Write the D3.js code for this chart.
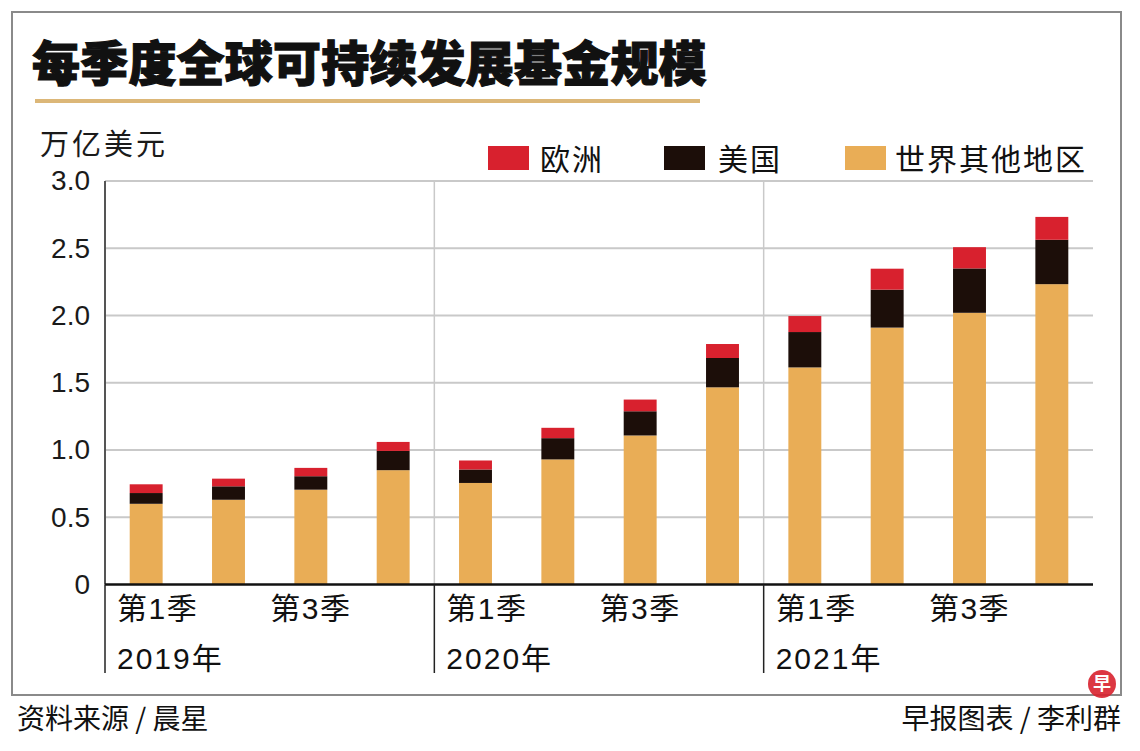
<!DOCTYPE html>
<html>
<head>
<meta charset="utf-8">
<script src="https://cdn.jsdelivr.net/npm/d3@7"></script>
<style>
  body { margin: 0; background: #fff; }
  svg { display: block; }
  .cjk { font-family: "Noto Sans CJK SC", sans-serif; }
  .num { font-family: "Liberation Sans", Arial, "Noto Sans CJK SC", sans-serif; }
</style>
</head>
<body>
<svg id="chart"></svg>
<script>
const quarters = ["2019Q1", "2019Q2", "2019Q3", "2019Q4", "2020Q1", "2020Q2", "2020Q3", "2020Q4", "2021Q1", "2021Q2", "2021Q3", "2021Q4"];
const restValues = [0.60, 0.63, 0.705, 0.85, 0.755, 0.93, 1.108, 1.466, 1.614, 1.91, 2.02, 2.233];
const usValues = [0.08, 0.10, 0.10, 0.143, 0.10, 0.158, 0.18, 0.218, 0.263, 0.282, 0.33, 0.33];
const euValues = [0.065, 0.057, 0.062, 0.067, 0.067, 0.077, 0.087, 0.104, 0.119, 0.156, 0.158, 0.17];
const years = ["2019年", "2020年", "2021年"];
const quarterLabels = ["第1季", "第3季"];
const yTicks = [0, 0.5, 1.0, 1.5, 2.0, 2.5, 3.0];
const seriesNames = { eu: "欧洲", us: "美国", rest: "世界其他地区" };

const colors = { rest: "#e9ad56", us: "#1c0e09", eu: "#d8212e" };

const width = 1140, height = 751;
const plot = { left: 105, right: 1093, top: 181, bottom: 584.5 };

const svg = d3.select("#chart").attr("width", width).attr("height", height);

// outer frame
svg.append("rect")
  .attr("x", 12).attr("y", 12)
  .attr("width", 1109).attr("height", 683)
  .attr("fill", "none").attr("stroke", "#8a8a8a").attr("stroke-width", 2);

// title
svg.append("text")
  .attr("class", "cjk")
  .attr("x", 32).attr("y", 81)
  .attr("font-size", 48).attr("font-weight", 900).attr("letter-spacing", 0.2)
  .attr("fill", "#111").attr("stroke", "#111").attr("stroke-width", 1.2)
  .text("每季度全球可持续发展基金规模");
svg.append("rect")
  .attr("x", 35).attr("y", 99).attr("width", 665).attr("height", 4)
  .attr("fill", "#dcb778");

// unit
svg.append("text")
  .attr("class", "cjk")
  .attr("x", 40).attr("y", 155)
  .attr("font-size", 29).attr("letter-spacing", 3)
  .attr("fill", "#1a1a1a")
  .text("万亿美元");

const data = quarters.map((q, i) => ({ q, rest: restValues[i], us: usValues[i], eu: euValues[i] }));
const stack = d3.stack().keys(["rest", "us", "eu"]);
const layers = stack(data);

const x = d3.scaleBand().domain(quarters).range([plot.left, plot.right]).paddingInner(0.6).paddingOuter(0.3);
const y = d3.scaleLinear().domain([0, 3]).range([plot.bottom, plot.top]);

// horizontal gridlines
svg.append("g")
  .selectAll("line")
  .data(yTicks.filter(d => d > 0))
  .join("line")
  .attr("x1", plot.left).attr("x2", plot.right)
  .attr("y1", d => y(d)).attr("y2", d => y(d))
  .attr("stroke", "#c9c9c9").attr("stroke-width", 2);

// year separators inside plot
const yearStarts = [0, 4, 8].map(i => x(quarters[i]) - x.step() * x.paddingOuter());
svg.append("g")
  .selectAll("line")
  .data(yearStarts.slice(1))
  .join("line")
  .attr("x1", d => d).attr("x2", d => d)
  .attr("y1", plot.top).attr("y2", plot.bottom)
  .attr("stroke", "#c9c9c9").attr("stroke-width", 1.5);

// bars
svg.append("g")
  .selectAll("g")
  .data(layers)
  .join("g")
  .attr("fill", d => colors[d.key])
  .selectAll("rect")
  .data(d => d)
  .join("rect")
  .attr("x", d => x(d.data.q))
  .attr("y", d => y(d[1]))
  .attr("width", x.bandwidth())
  .attr("height", d => y(d[0]) - y(d[1]));

// y axis line
svg.append("line")
  .attr("x1", plot.left).attr("x2", plot.left)
  .attr("y1", plot.top).attr("y2", plot.bottom)
  .attr("stroke", "#555").attr("stroke-width", 2);

// y axis labels
const yAxis = d3.axisLeft(y).tickValues(yTicks).tickSize(0).tickPadding(15)
  .tickFormat(d => d === 0 ? "0" : d.toFixed(1));
const yg = svg.append("g").attr("transform", `translate(${plot.left},0)`).call(yAxis);
yg.select(".domain").remove();
yg.selectAll("text")
  .attr("class", "num")
  .attr("font-size", 28)
  .attr("fill", "#1a1a1a");

// baseline
svg.append("line")
  .attr("x1", plot.left).attr("x2", plot.right)
  .attr("y1", plot.bottom).attr("y2", plot.bottom)
  .attr("stroke", "#111").attr("stroke-width", 2.5);

// year separators below baseline
svg.append("g")
  .selectAll("line")
  .data(yearStarts)
  .join("line")
  .attr("x1", d => d).attr("x2", d => d)
  .attr("y1", plot.bottom).attr("y2", 673)
  .attr("stroke", "#222").attr("stroke-width", 1.5);

// quarter labels
const qg = svg.append("g").attr("class", "num").attr("font-size", 30).attr("fill", "#111");
yearStarts.forEach((ys, yi) => {
  qg.append("text")
    .attr("x", ys + 12).attr("y", 619).attr("letter-spacing", 1.5)
    .text(quarterLabels[0]);
  qg.append("text")
    .attr("x", x(quarters[yi * 4 + 2]) + x.bandwidth() / 2).attr("y", 619)
    .attr("text-anchor", "middle").attr("letter-spacing", 1.5)
    .text(quarterLabels[1]);
  qg.append("text")
    .attr("x", ys + 12).attr("y", 669).attr("letter-spacing", 2)
    .text(years[yi]);
});

// legend
const legendItems = [
  { key: "eu", box: 488, text: 540 },
  { key: "us", box: 664, text: 718 },
  { key: "rest", box: 845, text: 895 }
];
const lg = svg.append("g");
legendItems.forEach(it => {
  lg.append("rect")
    .attr("x", it.box).attr("y", 146).attr("width", 41).attr("height", 24)
    .attr("fill", colors[it.key]);
  lg.append("text")
    .attr("class", "cjk")
    .attr("x", it.text).attr("y", 170)
    .attr("font-size", 30).attr("letter-spacing", 2)
    .attr("fill", "#111")
    .text(seriesNames[it.key]);
});

// footer
svg.append("text")
  .attr("class", "cjk")
  .attr("x", 17).attr("y", 729)
  .attr("font-size", 28).attr("fill", "#111")
  .text("资料来源 / 晨星");
svg.append("text")
  .attr("class", "cjk")
  .attr("x", 1121).attr("y", 729)
  .attr("text-anchor", "end")
  .attr("font-size", 28).attr("fill", "#111")
  .text("早报图表 / 李利群");

// logo mark
svg.append("circle")
  .attr("cx", 1102).attr("cy", 684).attr("r", 14)
  .attr("fill", "#d8212e").attr("opacity", 0.9);
svg.append("text")
  .attr("class", "cjk")
  .attr("x", 1102).attr("y", 690)
  .attr("text-anchor", "middle")
  .attr("font-size", 18).attr("font-weight", 700)
  .attr("fill", "#fff")
  .text("早");
</script>
</body>
</html>
